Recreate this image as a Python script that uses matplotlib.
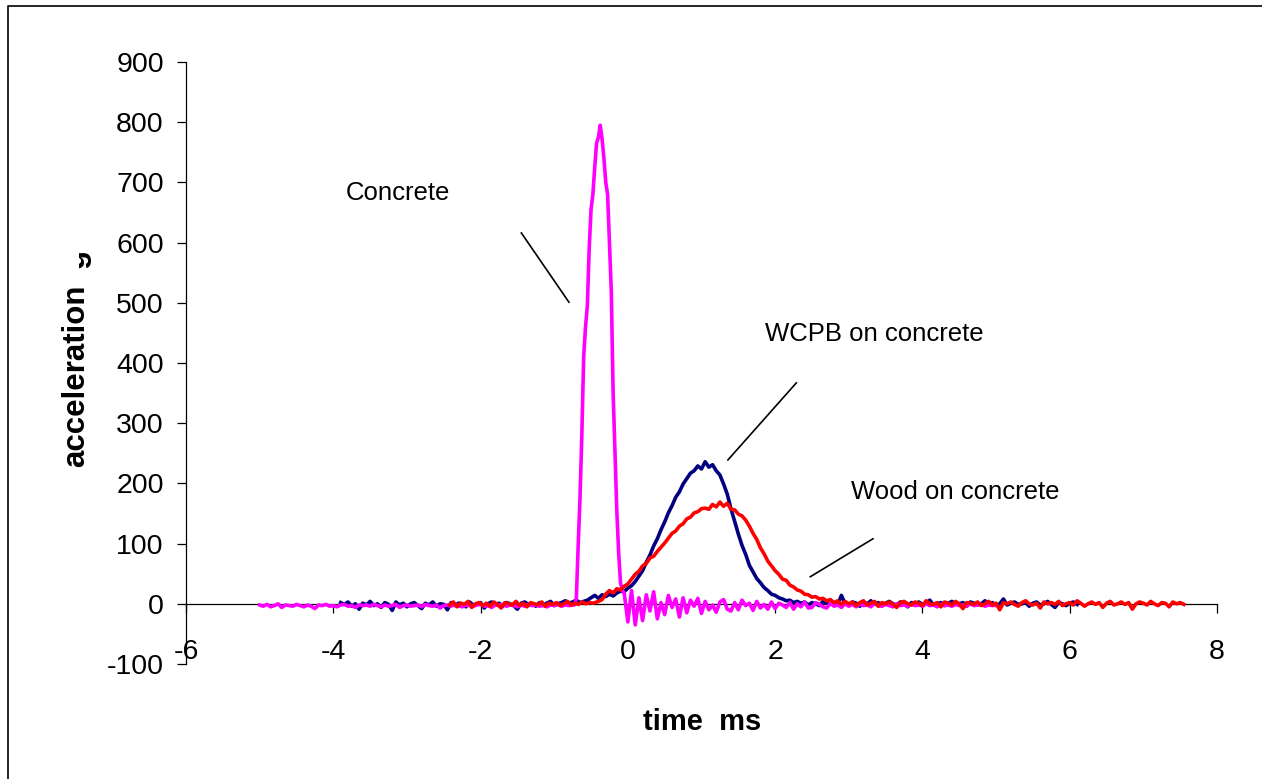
import numpy as np
import matplotlib
matplotlib.use("Agg")
import matplotlib.pyplot as plt
from matplotlib.lines import Line2D
from matplotlib.transforms import Bbox

plt.rcParams['font.family'] = ['Liberation Sans', 'DejaVu Sans']

# --- data (time in ms, acceleration in g) ---
# each trace is stored as segments: start time, sample step, values

# Concrete (magenta)
concrete_pre_t0, concrete_pre_dt = -5.0, 0.05
concrete_pre = [-2, -4, -1, -5, -3, 0, -6, -2, -3, -4,
                -1, -3, -5, -2, -4, -8, -2, -3, -1, -4,
                -3, -5, -2, -1, -4, -3, -6, -2, -3, -2,
                -4, -1, -3, -5, -2, -4, -3, -1, -6, -3,
                -2, -4, -3, -2, -5, -1, -3, -4, -2, -7,
                -3, -2, -4, -1, -3, -5, -2, -3, -4, -2,
                -1, -4, -3, -6, -2, -3, -1, -4, -2, -3,
                -5, -2, -4, -1, -3, -2, -4, -3, -5, -2,
                -3, -1, -4, -2, -3, -2]
concrete_pulse_t0, concrete_pulse_dt = -0.725, 0.025
concrete_pulse = [-2, 8, 95, 175, 280, 410, 460, 495, 590, 655,
                  680, 725, 765, 775, 795, 772, 740, 700, 680, 600,
                  520, 350, 250, 155, 85, 35, 22, 18]
concrete_ring_t0, concrete_ring_dt = 0.0, 0.05
concrete_ring = [-30, 22, -35, 10, -28, 15, -12, 20, -25, 2,
                 -18, 14, -6, 8, -22, 10, -15, 6, -4, 9,
                 -16, 4, -10, -2, -14, 3, 7, -9, -12, 2,
                 -10, 6, -3, 1, -11, 4, -7, -1, -9, 3,
                 -8, 1, -2, -6, 2, -9, 0, -5, 3, -7,
                 -6, 2, -1, -5, -7, 1, -4, -2, -6, 0,
                 -4, -1, -5, 0, -3, -2, -5, 1, -3, -4,
                 -1, -3, -5, 0, -3, -2, -4, -1, -3, -2,
                 -4, 0, -3, -2, -5, -1, -3, -2, -4, -1,
                 -3, -2, -4, 0, -3, -2, -1, -4, -2, -3,
                 -2]

# WCPB on concrete (navy)
wcpb_pre_t0, wcpb_pre_dt = -3.9, 0.05
wcpb_pre = [2, -1, 3, -4, 0, -9, 1, -2, 4, -3,
            0, -6, 2, -1, -11, 3, -2, 1, -5, 0,
            2, -3, -8, 1, -2, 3, -4, 0, -1, -10,
            2, -3, 1, 0, -5, 3, -2, -1, 2, -7,
            0, 3, -2, 1, -4, 2, 0, -3, -9, 1,
            3, -1, 0, -4, 2, -2, 1, 4, -3, 0,
            2, 5, 1, 3, 6, 2, 4]
wcpb_pulse_t0, wcpb_pulse_dt = -0.55, 0.05
wcpb_pulse = [6, 10, 14, 9, 15, 12, 16, 13, 18, 21,
              20, 26, 30, 37, 46, 55, 69, 81, 96, 108,
              123, 136, 151, 163, 177, 186, 199, 208, 217, 221,
              229, 224, 236, 227, 231, 221, 214, 199, 182, 158,
              137, 116, 97, 82, 64, 53, 42, 35, 27, 22,
              16, 14, 10, 8, 5, 6, 2, 4]
wcpb_post_t0, wcpb_post_dt = 2.35, 0.05
wcpb_post = [1, 3, -2, 2, 0, -3, 4, 1, 0, 2,
             -1, 14, 0, -2, 3, 1, -4, 2, 0, 5,
             -1, 2, -3, 1, 4, 0, -2, 3, 1, -5,
             2, 0, 3, -1, 1, 6, -2, 0, 2, -3,
             1, 4, -1, 0, 2, -4, 3, 1, -2, 0,
             5, -1, 2, -3, 0, 8, -2, 1, 3, -1,
             0, 2, -4, 1, 3, -2, 0, 4, -1, -6,
             2, 0, -3, 1, 3, -1]

# Wood on concrete (red)
wood_pre_t0, wood_pre_dt = -2.42, 0.05
wood_pre = [-2, 3, -5, 1, -1, 4, -6, 0, 2, -3,
            1, -4, 3, -1, -7, 2, 0, -2, 4, -3,
            1, -5, 2, 0, -2, 3, -4, 1, -1, 2,
            -3, 0, 4, -2, 1, -1, 3, 0, 2, 1]
wood_pulse_t0, wood_pulse_dt = -0.40, 0.05
wood_pulse = [4, 7, 16, 22, 18, 25, 23, 29, 33, 41,
              49, 54, 63, 67, 76, 79, 87, 94, 101, 109,
              117, 121, 129, 133, 141, 144, 151, 153, 158, 159,
              157, 165, 161, 169, 162, 167, 157, 156, 149, 146,
              139, 129, 117, 107, 93, 83, 71, 63, 55, 49,
              41, 39, 31, 28, 23, 21, 16, 15, 11, 12,
              8, 9, 5]
wood_post_t0, wood_post_dt = 2.75, 0.05
wood_post = [7, 2, 5, -1, 4, 0, 3, -3, 2, 5,
             -2, 1, 4, -4, 2, 0, 3, -1, -6, 2,
             4, 0, -2, 3, 1, -3, 5, 0, -1, 2,
             -5, 3, 1, -2, 4, 0, -8, 2, 1, -1,
             3, -3, 0, 4, -2, 1, -10, 2, 0, 3,
             -1, -4, 2, 5, 0, -2, 1, -7, 3, 0,
             2, -1, 4, -3, 0, 2, -2, 5, 1, -4,
             0, 3, -1, 2, -6, 1, 4, -2, 0, 3,
             -1, 2, -9, 0, 3, 1, -2, 4, 0, -3,
             2, 1, -5, 3, 0, 2, -1]


def build(segments):
    ts, gs = [], []
    for t0, dt, vals in segments:
        ts.append(t0 + dt * np.arange(len(vals)))
        gs.append(np.asarray(vals, dtype=float))
    return np.concatenate(ts), np.concatenate(gs)


t_conc, g_conc = build([(concrete_pre_t0, concrete_pre_dt, concrete_pre),
                        (concrete_pulse_t0, concrete_pulse_dt, concrete_pulse),
                        (concrete_ring_t0, concrete_ring_dt, concrete_ring)])
t_wcpb, g_wcpb = build([(wcpb_pre_t0, wcpb_pre_dt, wcpb_pre),
                        (wcpb_pulse_t0, wcpb_pulse_dt, wcpb_pulse),
                        (wcpb_post_t0, wcpb_post_dt, wcpb_post)])
t_wood, g_wood = build([(wood_pre_t0, wood_pre_dt, wood_pre),
                        (wood_pulse_t0, wood_pulse_dt, wood_pulse),
                        (wood_post_t0, wood_post_dt, wood_post)])

x_ticks = [-6, -4, -2, 0, 2, 4, 6, 8]
y_ticks = [-100, 0, 100, 200, 300, 400, 500, 600, 700, 800, 900]

W, H = 1262, 779
fig = plt.figure(figsize=(W / 100, H / 100), dpi=100)
ax = fig.add_axes([186 / W, 1 - 664 / H, (1217 - 186) / W, (664 - 62) / H])

ax.plot(t_wcpb, g_wcpb, color='#000080', lw=2.6, zorder=2)
ax.plot(t_conc, g_conc, color='#FF00FF', lw=2.6, zorder=3)
ax.plot(t_wood, g_wood, color='#FF0000', lw=2.6, zorder=4)

ax.set_xlim(-6, 8)
ax.set_ylim(-100, 900)
ax.set_xticks(x_ticks)
ax.set_yticks(y_ticks)
ax.set_xticklabels([str(v) for v in x_ticks])
ax.set_yticklabels([str(v) for v in y_ticks])

for s in ['top', 'right']:
    ax.spines[s].set_visible(False)
ax.spines['bottom'].set_position(('data', 0))
ax.spines['bottom'].set_zorder(1)
for s in ['left', 'bottom']:
    ax.spines[s].set_linewidth(0.9)
ax.tick_params(axis='both', direction='out', length=6.5, width=0.9,
               labelsize=20.5, colors='black')
ax.tick_params(axis='x', pad=19)
ax.tick_params(axis='y', pad=9.5)
ax.patch.set_alpha(0)

# annotations
lab_kw = dict(fontsize=18.5, ha='center', va='baseline')
ax.text(-3.126, 671, 'Concrete', **lab_kw)
ax.text(3.351, 436, 'WCPB on concrete', **lab_kw)
ax.text(4.445, 174, 'Wood on concrete', **lab_kw)
ax.plot([-1.446, -0.800], [616, 501], color='black', lw=1.2)
ax.plot([2.288, 1.359], [367, 239], color='black', lw=1.2)
ax.plot([3.328, 2.478], [108, 45], color='black', lw=1.2)

# axis titles
fig.text(702 / W, 1 - 729.5 / H, 'time  ms', ha='center', va='baseline',
         fontsize=21, fontweight='bold')
fig.text(84 / W, 1 - 376 / H, 'acceleration', rotation=90, rotation_mode='anchor',
         ha='center', va='baseline', fontsize=22.5, fontweight='bold')
# the unit letter is only partly visible in the original
g_txt = fig.text(84 / W, 1 - 268 / H, 'g', rotation=90, rotation_mode='anchor',
                 ha='left', va='baseline', fontsize=22.5, fontweight='bold')
g_txt.set_clip_box(Bbox([[79, H - 275], [110, H - 240]]))
g_txt.set_clip_on(True)

# chart border (only top and left edges are inside the picture)
fig.add_artist(Line2D([7.5 / W, 7.5 / W, 1.0], [0.0, 1 - 6 / H, 1 - 6 / H],
                      transform=fig.transFigure, color='black', lw=1.2))

fig.savefig('out.png', dpi=100)
